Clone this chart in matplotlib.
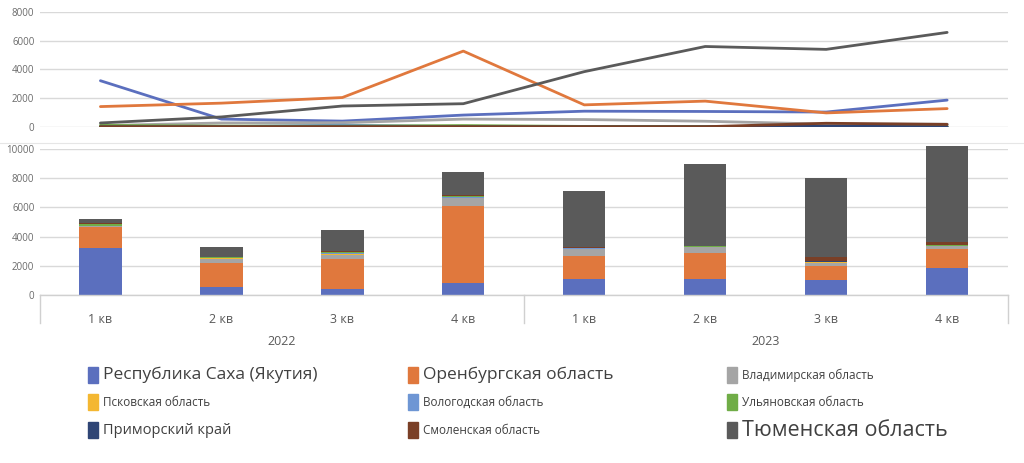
import matplotlib.pyplot as plt
from matplotlib.patches import Rectangle
from matplotlib.lines import Line2D
import numpy as np

quarters = ['1 кв', '2 кв', '3 кв', '4 кв', '1 кв', '2 кв', '3 кв', '4 кв']
years = ['2022', '2023']

regions = ['Республика Саха (Якутия)', 'Оренбургская область', 'Владимирская область',
           'Псковская область', 'Вологодская область', 'Ульяновская область',
           'Приморский край', 'Смоленская область', 'Тюменская область']

saha = [3220, 550, 410, 830, 1100, 1080, 1040, 1870]
orenburg = [1420, 1660, 2050, 5280, 1540, 1800, 980, 1280]
vladimir = [100, 280, 300, 550, 520, 400, 200, 200]
pskov = [10, 20, 20, 20, 20, 10, 20, 20]
vologda = [10, 20, 130, 20, 20, 10, 20, 20]
ulyanovsk = [110, 60, 60, 100, 40, 40, 30, 30]
primorsky = [10, 10, 10, 10, 10, 10, 60, 20]
smolensk = [20, 20, 20, 20, 20, 20, 260, 180]
tyumen = [280, 700, 1460, 1620, 3850, 5600, 5400, 6580]

series = [saha, orenburg, vladimir, pskov, vologda, ulyanovsk, primorsky, smolensk, tyumen]
colors = ['#5B6FBE', '#E0783D', '#A5A5A5', '#F4B731', '#6E96D4', '#70AD47',
          '#2F4575', '#7A3F26', '#5A5A5A']
legend_sizes = [12.5, 12.5, 8.5, 8.5, 8.5, 8.5, 10.5, 8.5, 15.5]

fig = plt.figure(figsize=(10.24, 4.63), dpi=100)
plt.rcParams['font.family'] = ['Open Sans', 'DejaVu Sans']

x = np.arange(len(quarters))

# верхний линейный график
ax1 = fig.add_axes([0.039, 0.7257, 0.945, 0.2484])
for vals, c in zip(series, colors):
    ax1.plot(x, vals, color=c, lw=2.0, solid_capstyle='round')
ax1.set_xlim(-0.5, 7.5)
ax1.set_ylim(0, 8000)
ax1.set_yticks([0, 2000, 4000, 6000, 8000])
ax1.set_xticks([])
ax1.grid(axis='y', color='#D9D9D9', lw=1)
ax1.set_axisbelow(True)
for s in ax1.spines.values():
    s.set_visible(False)
ax1.tick_params(axis='y', length=0, labelsize=7, labelcolor='#6A6A6A', pad=4)

# нижний столбчатый график
ax2 = fig.add_axes([0.039, 0.3628, 0.945, 0.3153])
bottom = np.zeros(len(quarters))
for vals, c in zip(series, colors):
    ax2.bar(x, vals, 0.35, bottom=bottom, color=c, clip_on=False)
    bottom += np.array(vals)
ax2.set_xlim(-0.5, 7.5)
ax2.set_ylim(0, 10000)
ax2.set_yticks([0, 2000, 4000, 6000, 8000, 10000])
ax2.set_xticks([])
ax2.grid(axis='y', color='#D9D9D9', lw=1)
ax2.set_axisbelow(True)
for s in ax2.spines.values():
    s.set_visible(False)
ax2.tick_params(axis='y', length=0, labelsize=7, labelcolor='#6A6A6A', pad=4)

# двухуровневая ось категорий
trans = ax2.get_xaxis_transform()
ax2.plot([-0.5, 7.5], [0, 0], color='#D0D0D0', lw=1, transform=trans, clip_on=False)
for xv in [-0.5, 3.5, 7.5]:
    ax2.plot([xv, xv], [0, -0.19], color='#D0D0D0', lw=1, transform=trans, clip_on=False)
for i, q in enumerate(quarters):
    ax2.text(i, -0.17, q, transform=trans, ha='center', va='center',
             fontsize=9, color='#595959')
for j, yr in enumerate(years):
    ax2.text(1.5 + 4 * j, -0.32, yr, transform=trans, ha='center', va='center',
             fontsize=9, color='#595959')

# тонкая линия-разделитель между графиками
fig.add_artist(Line2D([0, 1], [1 - 143 / 463, 1 - 143 / 463], color='#E6E6E6', lw=0.8))

# легенда
col_x = [88, 408, 727]
row_y = [375, 402, 430]
for k, (name, c, fs) in enumerate(zip(regions, colors, legend_sizes)):
    r, col = divmod(k, 3)
    px = col_x[col] / 1024
    py = 1 - row_y[r] / 463
    fig.add_artist(Rectangle((px, py - 0.018), 0.0095, 0.036, color=c,
                             transform=fig.transFigure))
    fig.text(px + 0.015, py, name, fontsize=fs, color='#404040', va='center', ha='left')

fig.savefig('out.png', dpi=100)
